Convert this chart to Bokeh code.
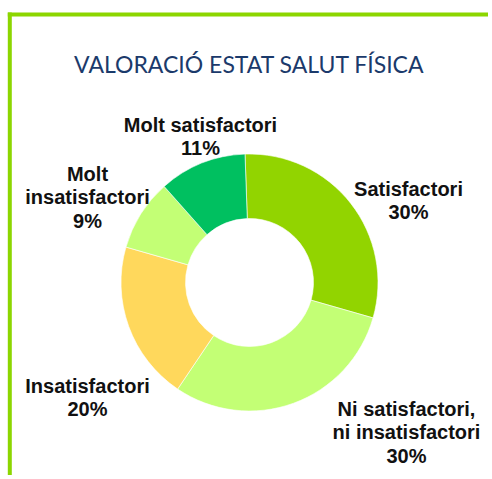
import math
from bokeh.plotting import figure
from bokeh.models import ColumnDataSource, Range1d
from bokeh.core.properties import value
from bokeh.embed import file_html
from bokeh.resources import INLINE

# ---- data ----
categories = ["Satisfactori", "Ni satisfactori, ni insatisfactori", "Insatisfactori",
              "Molt insatisfactori", "Molt satisfactori"]
values = [30, 30, 20, 9, 11]
colors = ["#92D400", "#C3FF75", "#FFD85C", "#C3FF75", "#00C060"]
label_lines = [["Satisfactori", "30%"],
               ["Ni satisfactori,", "ni insatisfactori", "30%"],
               ["Insatisfactori", "20%"],
               ["Molt", "insatisfactori", "9%"],
               ["Molt satisfactori", "11%"]]
title = "VALORACIÓ ESTAT SALUT FÍSICA"

# ---- layout (pixels in figure space, y measured from top) ----
W, H = 488, 475
CX, CY = 249, 282
R_OUT, R_IN = 128.5, 64
START_DEG = 92
# label anchor (x center, baseline of first line), line step
label_pos = [(408, 188), (406, 408), (87, 385), (87, 173), (200, 124)]
LINE_STEP = 23.7

def fy(y_top):
    return H - y_top

p = figure(width=W, height=H, output_backend="svg", toolbar_location=None,
           x_range=Range1d(0, W), y_range=Range1d(0, H), min_border=0,
           background_fill_color="white", border_fill_color="white")
p.axis.visible = False
p.grid.visible = False
p.outline_line_color = None

# border lines
p.quad(left=[7.3], right=[11.3], top=[fy(12)], bottom=[-5], fill_color="#8CD600", line_color=None)
p.quad(left=[7.3], right=[W + 5], top=[fy(12)], bottom=[fy(16)], fill_color="#8CD600", line_color=None)

# donut
total = sum(values)
starts, ends = [], []
cum = 0
a_top = math.radians(START_DEG)
for v in values:
    a0 = a_top - 2 * math.pi * (cum + v) / total
    a1 = a_top - 2 * math.pi * cum / total
    starts.append(a0)
    ends.append(a1)
    cum += v
src = ColumnDataSource(dict(cat=categories, val=values, color=colors, start=starts, end=ends,
                            x=[CX] * len(values), y=[fy(CY)] * len(values)))
p.annular_wedge(x="x", y="y", inner_radius=R_IN, outer_radius=R_OUT,
                inner_radius_units="screen", outer_radius_units="screen",
                start_angle="start", end_angle="end", direction="anticlock",
                fill_color="color", line_color="white", line_width=0.6, source=src)

# labels
tx, ty, tt = [], [], []
for (x0, y0), lines in zip(label_pos, label_lines):
    for i, t in enumerate(lines):
        tx.append(x0)
        ty.append(fy(y0 + i * LINE_STEP))
        tt.append(t)
p.text(x=tx, y=ty, text=tt, text_align="center", text_baseline="alphabetic",
       text_font=value("Liberation Sans"), text_font_style="bold",
       text_font_size="20px", text_color="#111111")

# title
p.text(x=[249], y=[fy(63)], text=[title], text_align="center", text_baseline="alphabetic",
       text_font=value("Lato"), text_font_size="23px", text_color="#1B3A6B")

open("out.html", "w").write(file_html(p, INLINE))
